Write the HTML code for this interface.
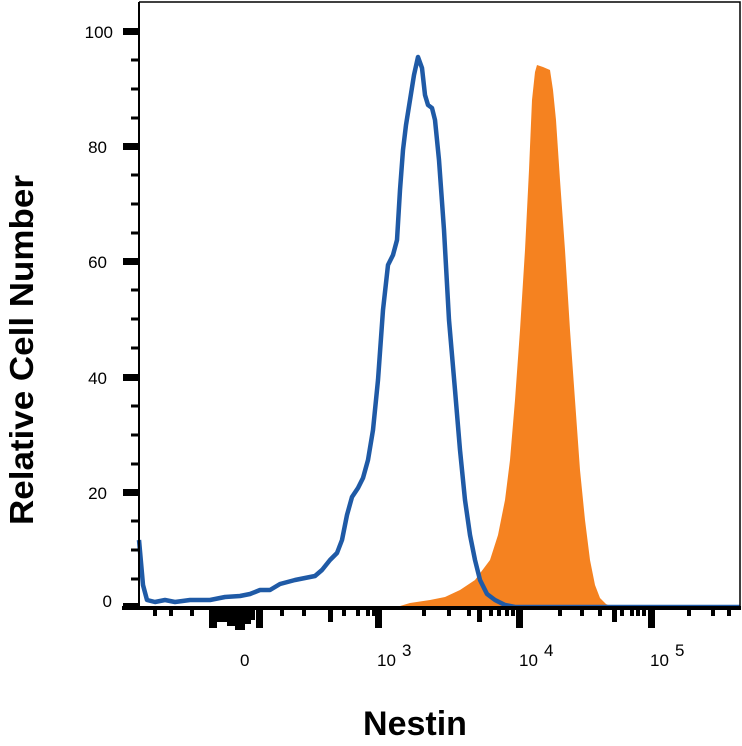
<!DOCTYPE html>
<html><head><meta charset="utf-8"><style>
html,body{margin:0;padding:0;background:#fff;}
svg{display:block;font-family:"Liberation Sans",sans-serif;}
</style></head><body>
<svg width="742" height="746" viewBox="0 0 742 746" xmlns="http://www.w3.org/2000/svg">
<rect width="742" height="746" fill="#fff"/>
<path d="M139,607 L400,606 L410,603 L430,600 L445,597 L460,590 L475,580 L490,560 L498,535 L505,500 L510,460 L515,400 L520,330 L525,250 L529,170 L532,100 L535,72 L537,65 L543,67 L550,70 L553,90 L556,120 L560,180 L565,250 L570,330 L575,400 L580,470 L585,520 L590,560 L595,585 L600,598 L606,604 L612,607 L740,607 Z" fill="#f58220"/>
<path d="M139,540 L143,585 L147,600 L155,602 L165,600 L175,602 L190,600 L210,600 L225,597 L240,596 L250,594 L260,590 L270,590 L280,584 L295,580 L305,578 L315,576 L322,570 L330,560 L337,553 L342,540 L347,515 L352,497 L358,488 L363,478 L368,460 L373,430 L378,380 L383,310 L388,265 L393,255 L397,240 L400,190 L403,150 L406,125 L410,100 L414,75 L418,57 L422,68 L425,95 L428,105 L432,108 L435,120 L439,160 L444,230 L449,320 L455,390 L460,450 L465,500 L470,535 L475,560 L480,580 L487,594 L495,600 L505,605 L515,607 L740,607" fill="none" stroke="#1f5aa6" stroke-width="4.5" stroke-linejoin="round"/>
<path d="M139,2 L740,2 L740,608" fill="none" stroke="#000" stroke-width="1.5"/>
<line x1="139" y1="2" x2="139" y2="610" stroke="#000" stroke-width="2"/>
<line x1="122" y1="608" x2="741" y2="608" stroke="#000" stroke-width="4"/>
<g fill="#000">
<rect x="123" y="28" width="16" height="7"/>
<rect x="123" y="143" width="16" height="7"/>
<rect x="123" y="258" width="16" height="7"/>
<rect x="123" y="374" width="16" height="7"/>
<rect x="123" y="489" width="16" height="7"/>
<rect x="123" y="603" width="16" height="7"/>
</g>
<g stroke="#000" stroke-width="3">
<line x1="131" y1="60" x2="139" y2="60"/><line x1="131" y1="89" x2="139" y2="89"/><line x1="131" y1="118" x2="139" y2="118"/>
<line x1="131" y1="175" x2="139" y2="175"/><line x1="131" y1="204" x2="139" y2="204"/><line x1="131" y1="233" x2="139" y2="233"/>
<line x1="131" y1="290" x2="139" y2="290"/><line x1="131" y1="319" x2="139" y2="319"/><line x1="131" y1="348" x2="139" y2="348"/>
<line x1="131" y1="406" x2="139" y2="406"/><line x1="131" y1="435" x2="139" y2="435"/><line x1="131" y1="464" x2="139" y2="464"/>
<line x1="131" y1="521" x2="139" y2="521"/><line x1="131" y1="550" x2="139" y2="550"/><line x1="131" y1="579" x2="139" y2="579"/>
</g>
<g fill="#000">
<rect x="153" y="608" width="4" height="8"/><rect x="169" y="608" width="4" height="8"/><rect x="190" y="608" width="4" height="8"/>
<rect x="209" y="608" width="8" height="20"/><rect x="217" y="608" width="10" height="14"/><rect x="227" y="608" width="8" height="18"/><rect x="235" y="608" width="10" height="22"/><rect x="245" y="608" width="6" height="16"/><rect x="251" y="608" width="4" height="12"/><rect x="256" y="608" width="7" height="20"/>
<rect x="280" y="608" width="4" height="8"/><rect x="302" y="608" width="4" height="8"/><rect x="328" y="608" width="5" height="14"/><rect x="342" y="608" width="4" height="8"/><rect x="356" y="608" width="4" height="8"/><rect x="366" y="608" width="4" height="8"/><rect x="372" y="608" width="4" height="8"/>
<rect x="375" y="608" width="7" height="20"/>
<rect x="422" y="608" width="4" height="8"/><rect x="447" y="608" width="4" height="8"/><rect x="467" y="608" width="4" height="8"/><rect x="477" y="608" width="5" height="14"/><rect x="489" y="608" width="4" height="8"/><rect x="497" y="608" width="4" height="8"/><rect x="505" y="608" width="4" height="8"/><rect x="511" y="608" width="4" height="8"/>
<rect x="516" y="608" width="7" height="20"/>
<rect x="558" y="608" width="4" height="8"/><rect x="580" y="608" width="4" height="8"/><rect x="598" y="608" width="4" height="8"/><rect x="612" y="608" width="5" height="14"/><rect x="620" y="608" width="4" height="8"/><rect x="630" y="608" width="4" height="8"/><rect x="636" y="608" width="4" height="8"/><rect x="642" y="608" width="4" height="8"/>
<rect x="648" y="608" width="7" height="20"/>
<rect x="687" y="608" width="4" height="8"/><rect x="711" y="608" width="4" height="8"/><rect x="727" y="608" width="4" height="8"/>
</g>
<g font-size="17" fill="#000" text-anchor="end">
<text x="113" y="38">100</text><text x="107" y="153">80</text><text x="107" y="268">60</text>
<text x="107" y="384">40</text><text x="107" y="499">20</text><text x="112" y="607">0</text>
</g>
<g font-size="17" fill="#000">
<text x="240" y="666">0</text>
<text x="377" y="666">10</text><text x="402" y="656">3</text>
<text x="519" y="666">10</text><text x="544" y="656">4</text>
<text x="650" y="666">10</text><text x="675" y="656">5</text>
</g>
<text x="415" y="735" font-size="34" font-weight="bold" text-anchor="middle">Nestin</text>
<text transform="translate(33,350) rotate(-90)" font-size="33" font-weight="bold" text-anchor="middle" textLength="350" lengthAdjust="spacingAndGlyphs">Relative Cell Number</text>
</svg>
</body></html>
